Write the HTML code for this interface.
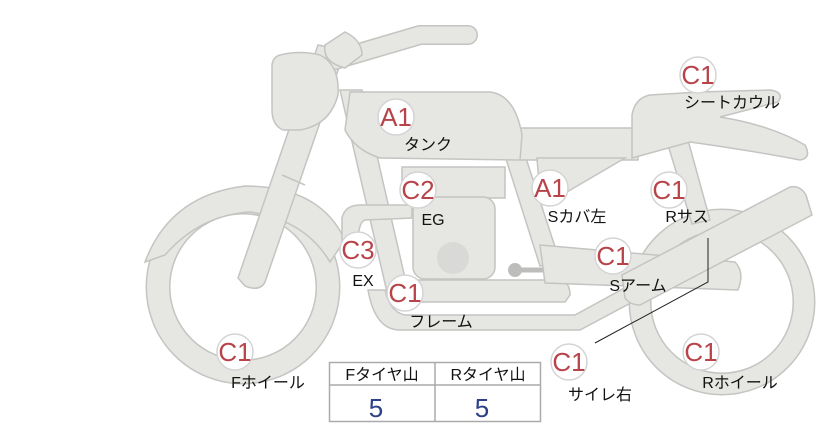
<!DOCTYPE html>
<html><head><meta charset="utf-8"><style>
html,body{margin:0;padding:0;background:#fff;width:822px;height:425px;overflow:hidden}
svg{display:block}
.p{fill:#e6e6e3;stroke:#c4c4c2;stroke-width:1.5}
.b{fill:#fff;stroke:#d4d4d4;stroke-width:1.5}
.bt{font-family:"Liberation Sans","DejaVu Sans",sans-serif;font-size:26px;fill:#b8444a;text-anchor:middle;font-weight:300}
.lt{font-family:"Liberation Sans","Noto Sans CJK JP",sans-serif;font-size:16px;fill:#111;text-anchor:middle}
</style></head><body>
<svg width="822" height="425" viewBox="0 0 822 425">
<circle cx="243" cy="287" r="85" fill="none" stroke="#c4c4c2" stroke-width="25"/>
<circle cx="243" cy="287" r="85" fill="none" stroke="#e6e6e3" stroke-width="22"/>
<path class="p" d="M145,262 Q170,195 245,186 Q320,186 345,240 L330,262 Q305,220 250,212 Q200,215 165,255 Z"/>
<circle cx="722" cy="302" r="82" fill="none" stroke="#c4c4c2" stroke-width="23"/>
<circle cx="722" cy="302" r="82" fill="none" stroke="#e6e6e3" stroke-width="20"/>
<path class="p" d="M340,90 L362,90 L410,300 L390,305 Z"/>
<path class="p" d="M368,290 Q375,330 400,330 L580,330 L640,298 L630,285 L575,315 L405,315 Q390,312 385,290 Z"/>
<path class="p" d="M410,280 L560,280 Q570,282 570,295 L565,302 L410,302 Z"/>
<path class="p" d="M342,245 L342,218 Q345,205 360,205 L412,205 L412,218 L365,220 Q358,222 358,245 Z"/>
<rect class="p" x="402" y="167" width="103" height="31"/>
<rect class="p" x="413" y="197" width="82" height="82" rx="12"/>
<circle cx="453" cy="258" r="16" fill="#d9d9d7"/>
<path d="M515,270 L555,270" stroke="#bdbdbb" stroke-width="5"/>
<circle cx="515" cy="270" r="7" fill="#bdbdbb"/><circle cx="555" cy="270" r="7" fill="#bdbdbb"/>
<path class="p" d="M500,140 L520,140 L560,262 L540,266 Z"/>
<path class="p" d="M512,128 L638,128 L638,160 L520,160 Z"/>
<path class="p" d="M537,158 L625,158 L560,196 L540,196 Z"/>
<path class="p" d="M350,92 L490,92 Q515,95 522,135 L520,160 L380,158 Q355,150 345,130 Z"/>
<path class="p" d="M668,145 L688,140 L710,220 L692,224 Z"/>
<path class="p" d="M540,245 L735,262 Q745,272 738,290 L545,283 Z"/>
<path class="p" d="M622,275 L790,187 Q800,185 806,195 L812,215 L640,305 Q630,305 625,298 Z"/>
<path class="p" d="M632,158 L632,115 Q635,98 650,95 L700,92 L770,90 Q785,92 778,102 L720,117 Q770,125 805,145 Q812,158 800,160 Q760,152 690,142 Z"/>
<path class="p" d="M318,45 L345,50 L265,282 Q260,292 245,286 L238,278 Z"/>
<path d="M282,175 L305,185" stroke="#c4c4c2" stroke-width="1.5"/>
<path d="M335,60 L420,35 L468,35" fill="none" stroke="#c4c4c2" stroke-width="20" stroke-linecap="round"/>
<path d="M335,60 L420,35 L468,35" fill="none" stroke="#e6e6e3" stroke-width="17" stroke-linecap="round"/>
<path class="p" d="M280,55 Q300,50 320,55 Q340,65 338,95 Q330,125 300,130 L283,130 Q272,125 272,110 L272,65 Q273,57 280,55 Z"/>
<path class="p" d="M325,45 L345,32 Q362,40 362,55 L345,68 Q322,62 325,45 Z"/>
<path d="M595,343 L708,282 L708,238" fill="none" stroke="#222" stroke-width="1"/>
<g>
<circle class="b" cx="396" cy="117" r="18"/><text class="bt" x="396" y="126">A1</text><text class="lt" x="428" y="150">タンク</text>
<circle class="b" cx="698" cy="75" r="18"/><text class="bt" x="698" y="84">C1</text><text class="lt" x="732" y="108">シートカウル</text>
<circle class="b" cx="418" cy="190" r="18"/><text class="bt" x="418" y="199">C2</text><text class="lt" x="433" y="225">EG</text>
<circle class="b" cx="550" cy="188" r="18"/><text class="bt" x="550" y="197">A1</text><text class="lt" x="577" y="222">Sカバ左</text>
<circle class="b" cx="669" cy="190" r="18"/><text class="bt" x="669" y="199">C1</text><text class="lt" x="687" y="222">Rサス</text>
<circle class="b" cx="358" cy="250" r="18"/><text class="bt" x="358" y="259">C3</text><text class="lt" x="363" y="286">EX</text>
<circle class="b" cx="613" cy="256" r="18"/><text class="bt" x="613" y="265">C1</text><text class="lt" x="638" y="291">Sアーム</text>
<circle class="b" cx="405" cy="293" r="18"/><text class="bt" x="405" y="302">C1</text><text class="lt" x="441" y="327">フレーム</text>
<circle class="b" cx="235" cy="352" r="18"/><text class="bt" x="235" y="361">C1</text><text class="lt" x="268" y="388">Fホイール</text>
<circle class="b" cx="569" cy="362" r="18"/><text class="bt" x="569" y="371">C1</text><text class="lt" x="600" y="400">サイレ右</text>
<circle class="b" cx="701" cy="352" r="18"/><text class="bt" x="701" y="361">C1</text><text class="lt" x="740" y="388">Rホイール</text>
</g>
<rect x="329.5" y="362.5" width="211" height="59" fill="#fff" stroke="#aaa" stroke-width="1.5"/>
<line x1="329" y1="385" x2="541" y2="385" stroke="#aaa" stroke-width="1.5"/>
<line x1="435" y1="362" x2="435" y2="422" stroke="#aaa" stroke-width="1.5"/>
<text class="lt" x="382" y="380">Fタイヤ山</text>
<text class="lt" x="488" y="380">Rタイヤ山</text>
<text x="376" y="417" font-family="Liberation Sans,sans-serif" font-size="26" fill="#2d4088" text-anchor="middle">5</text>
<text x="482" y="417" font-family="Liberation Sans,sans-serif" font-size="26" fill="#2d4088" text-anchor="middle">5</text>
</svg>
</body></html>
